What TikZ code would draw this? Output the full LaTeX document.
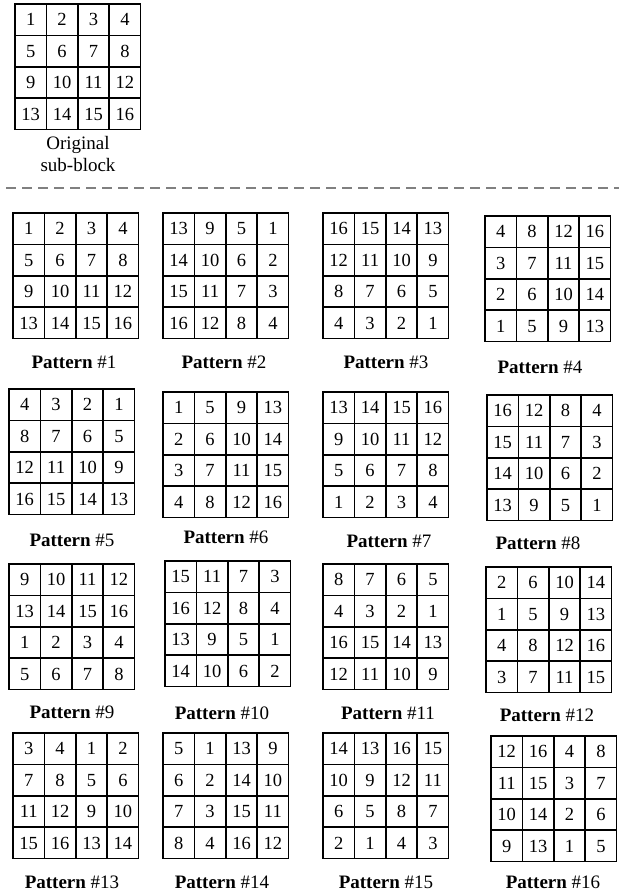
\documentclass[tikz,border=0pt]{standalone}
\usepackage{fontspec}
\setmainfont{Liberation Serif}

% one 4x4 sub-block: name, left x, top y, sixteen entries (row by row)
\newcommand{\pattgrid}[4]{%
  \foreach \v [count=\k from 0] in {#4} {
    \pgfmathtruncatemacro{\prow}{div(\k,4)}
    \pgfmathtruncatemacro{\pcol}{mod(\k,4)}
    \node[cell] (#1-\k) at ({#2+(\pcol+0.5)*31.4},{#3+(\prow+0.5)*31.4}) {\v};
  }%
}

\begin{document}
\begin{tikzpicture}[
    x=1pt, y=-1pt,
    cell/.style={draw, line width=1.5pt, minimum size=31.4pt, inner sep=0pt, text height=12.5pt, text depth=0pt, font=\fontsize{18.5}{18.5}\selectfont},
    patlabel/.style={font=\fontsize{19}{19}\selectfont, inner sep=0pt},
    sepline/.style={draw=black!50, line width=2pt, dash pattern=on 10pt off 6pt},
]
\useasboundingbox (0,0) rectangle (619,892);

% Original sub-block
\pattgrid{orig}{15}{4}{1,...,16}
\node[patlabel, anchor=base] (origA) at (78,149) {Original};
\node[patlabel, anchor=base] (origB) at (78,171) {sub-block};

% Separator
\coordinate (sepL) at (6,188);
\coordinate (sepR) at (619,188);
\draw[sepline] (sepL) -- (sepR);

% Row 1
\pattgrid{p1}{13}{213}{1,2,3,4,5,6,7,8,9,10,11,12,13,14,15,16}
\pattgrid{p2}{163}{213}{13,9,5,1,14,10,6,2,15,11,7,3,16,12,8,4}
\pattgrid{p3}{323}{213}{16,15,14,13,12,11,10,9,8,7,6,5,4,3,2,1}
\pattgrid{p4}{485}{216}{4,8,12,16,3,7,11,15,2,6,10,14,1,5,9,13}

% Row 2
\pattgrid{p5}{9}{389}{4,3,2,1,8,7,6,5,12,11,10,9,16,15,14,13}
\pattgrid{p6}{163}{392}{1,5,9,13,2,6,10,14,3,7,11,15,4,8,12,16}
\pattgrid{p7}{323}{392}{13,14,15,16,9,10,11,12,5,6,7,8,1,2,3,4}
\pattgrid{p8}{487}{395}{16,12,8,4,15,11,7,3,14,10,6,2,13,9,5,1}

% Row 3
\pattgrid{p9}{9}{564}{9,10,11,12,13,14,15,16,1,2,3,4,5,6,7,8}
\pattgrid{p10}{165}{561}{15,11,7,3,16,12,8,4,13,9,5,1,14,10,6,2}
\pattgrid{p11}{323}{564}{8,7,6,5,4,3,2,1,16,15,14,13,12,11,10,9}
\pattgrid{p12}{486}{567}{2,6,10,14,1,5,9,13,4,8,12,16,3,7,11,15}

% Row 4
\pattgrid{p13}{13}{733}{3,4,1,2,7,8,5,6,11,12,9,10,15,16,13,14}
\pattgrid{p14}{163}{733}{5,1,13,9,6,2,14,10,7,3,15,11,8,4,16,12}
\pattgrid{p15}{323}{733}{14,13,16,15,10,9,12,11,6,5,8,7,2,1,4,3}
\pattgrid{p16}{491}{736}{12,16,4,8,11,15,3,7,10,14,2,6,9,13,1,5}

% Pattern captions
\foreach \n/\lx/\ly in {1/74/362, 2/224/362, 3/386/362, 4/540/367,
    5/72/540, 6/226/537, 7/389/541, 8/538/543,
    9/72/712, 10/222/713, 11/388/713, 12/547/715,
    13/72/882, 14/222/882, 15/386/882, 16/553/882}
  \node[patlabel] (lab\n) at (\lx,\ly) {\textbf{Pattern} \#\n};

\end{tikzpicture}
\end{document}
